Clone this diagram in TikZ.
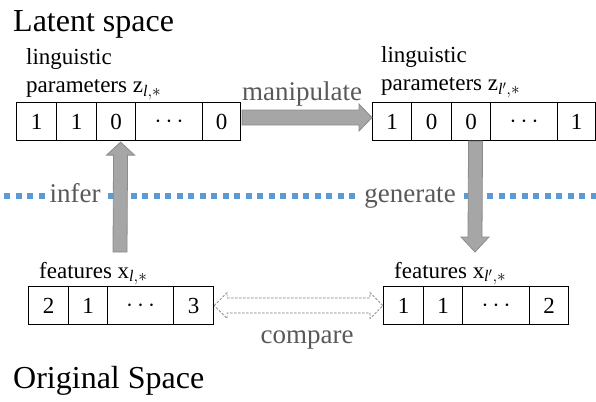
\documentclass[tikz,border=0pt]{standalone}
\usepackage{fontspec}
\setmainfont{Liberation Serif}
\usetikzlibrary{calc}
\definecolor{dotblue}{HTML}{5B9BD5}
\definecolor{arrfill}{HTML}{A6A6A6}
\definecolor{arrline}{HTML}{8C8C8C}
\definecolor{lblgray}{HTML}{595959}
\definecolor{cmpline}{HTML}{7F7F7F}
\begin{document}
\begin{tikzpicture}[x=1pt,y=-1pt,
  cell/.style={draw, line width=1.1pt, minimum height=38pt, inner sep=0pt,
    font=\fontsize{23}{28}\selectfont, anchor=north west},
  lbl/.style={font=\fontsize{23}{28}\selectfont, align=left, inner sep=0pt},
  title/.style={font=\fontsize{32}{38}\selectfont, inner sep=0pt, anchor=base west},
  glbl/.style={font=\fontsize{27}{32}\selectfont, text=lblgray, inner sep=0pt, anchor=base},
  blockarrow/.style={fill=arrfill, draw=arrline, line width=0.8pt, line join=miter},
  cmparrow/.style={fill=white, draw=cmpline, line width=0.7pt, dash pattern=on 2.5pt off 1.5pt},
  divider/.style={draw=dotblue, line width=6pt, dash pattern=on 6pt off 5.5pt}
]
\useasboundingbox (0,0) rectangle (596,401);

% titles
\node[title] (t1) at (13,32) {Latent space};
\node[title] (t2) at (13,388) {Original Space};

% divider
\draw[divider] (4,196) -- (596,196);

% top-left vector
\node[cell, minimum width=40pt] (a1) at (16,102) {1};
\node[cell, minimum width=40pt] (a2) at (56,102) {1};
\node[cell, minimum width=39pt] (a3) at (96,102) {0};
\node[cell, minimum width=67pt] (a4) at (135,102) {$\cdots$};
\node[cell, minimum width=38pt] (a5) at (202,102) {0};
% top-right vector
\node[cell, minimum width=39pt] (b1) at (372,102) {1};
\node[cell, minimum width=40pt] (b2) at (411,102) {0};
\node[cell, minimum width=39pt] (b3) at (451,102) {0};
\node[cell, minimum width=67pt] (b4) at (490,102) {$\cdots$};
\node[cell, minimum width=38pt] (b5) at (557,102) {1};
% bottom-left vector
\node[cell, minimum width=40pt] (c1) at (28,286) {2};
\node[cell, minimum width=39pt] (c2) at (68,286) {1};
\node[cell, minimum width=66pt] (c3) at (107,286) {$\cdots$};
\node[cell, minimum width=40pt] (c4) at (173,286) {3};
% bottom-right vector
\node[cell, minimum width=40pt] (d1) at (383,286) {1};
\node[cell, minimum width=39pt] (d2) at (423,286) {1};
\node[cell, minimum width=67pt] (d3) at (462,286) {$\cdots$};
\node[cell, minimum width=39pt] (d4) at (529,286) {2};

% vector labels
\node[lbl, anchor=south west] (la) at ($(a1.north west)+(10,-2)$) {linguistic\\parameters z$_{\mathit{l},*}$};
\node[lbl, anchor=south west] (lb) at ($(b1.north west)+(9,-4)$) {linguistic\\parameters z$_{\mathit{l}',*}$};
\node[lbl, anchor=base west] (lc) at ($(c1.north west)+(11,-8)$) {features x$_{\mathit{l},*}$};
\node[lbl, anchor=base west] (ld) at ($(d1.north west)+(11,-8)$) {features x$_{\mathit{l}',*}$};

% action labels
\node[glbl] (man) at (302,100) {manipulate};
\node[glbl, fill=white, inner xsep=4pt] (inf) at (75,202) {infer};
\node[glbl, fill=white, inner xsep=4pt] (gen) at (410,202) {generate};
\node[glbl] (cmp) at (307,343) {compare};

% manipulate arrow
\coordinate (ms) at ($(a5.east)+(1,-4)$);
\coordinate (mt) at ($(b1.west)+(0,-4)$);
\draw[blockarrow] ($(ms)+(0,-7.5)$) -- ($(mt)+(-13,-7.5)$) -- ($(mt)+(-13,-13.5)$) -- (mt)
  -- ($(mt)+(-13,13.5)$) -- ($(mt)+(-13,7.5)$) -- ($(ms)+(0,7.5)$) -- cycle;

% infer arrow
\coordinate (it) at ($(a3.south)+(4.5,1)$);
\coordinate (ib) at (120,252);
\draw[blockarrow] ($(ib)+(-7,0)$) -- ($(it)+(-7,13)$) -- ($(it)+(-14,13)$) -- (it)
  -- ($(it)+(14,13)$) -- ($(it)+(7,13)$) -- ($(ib)+(7,0)$) -- cycle;

% generate arrow
\coordinate (gs) at ($(b3.south)+(4.5,0)$);
\coordinate (gt) at (475,252);
\draw[blockarrow] ($(gs)+(-7,0)$) -- ($(gt)+(-7,-15)$) -- ($(gt)+(-14,-15)$) -- (gt)
  -- ($(gt)+(14,-15)$) -- ($(gt)+(7,-15)$) -- ($(gs)+(7,0)$) -- cycle;

% compare arrow
\coordinate (cl) at (c4.east);
\coordinate (cr) at (d1.west);
\draw[cmparrow] (cl) -- ($(cl)+(13,-13)$) -- ($(cl)+(13,-7.5)$) -- ($(cr)+(-13,-7.5)$)
  -- ($(cr)+(-13,-13)$) -- (cr) -- ($(cr)+(-13,13)$) -- ($(cr)+(-13,7.5)$)
  -- ($(cl)+(13,7.5)$) -- ($(cl)+(13,13)$) -- cycle;
\end{tikzpicture}
\end{document}
